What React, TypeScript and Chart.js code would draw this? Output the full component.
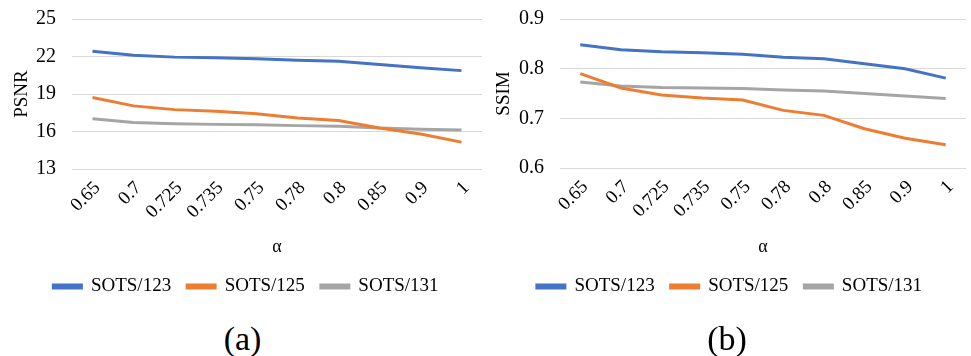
import React, { useEffect, useRef } from "react";
import { Chart, registerables } from "chart.js";

Chart.register(...registerables);

const alphaLabels = ["0.65", "0.7", "0.725", "0.735", "0.75", "0.78", "0.8", "0.85", "0.9", "1"];
const seriesNames = ["SOTS/123", "SOTS/125", "SOTS/131"];
const seriesColors = ["#4472C4", "#ED7D31", "#A5A5A5"];

const psnr123 = [22.42, 22.1, 21.95, 21.9, 21.82, 21.7, 21.62, 21.36, 21.1, 20.87];
const psnr125 = [18.72, 18.05, 17.75, 17.62, 17.42, 17.08, 16.88, 16.28, 15.8, 15.15];
const psnr131 = [17.02, 16.72, 16.62, 16.57, 16.54, 16.47, 16.42, 16.28, 16.18, 16.12];

const ssim123 = [0.848, 0.838, 0.834, 0.832, 0.829, 0.823, 0.82, 0.81, 0.8, 0.781];
const ssim125 = [0.79, 0.761, 0.747, 0.741, 0.737, 0.716, 0.706, 0.679, 0.66, 0.647];
const ssim131 = [0.773, 0.765, 0.762, 0.761, 0.76, 0.757, 0.755, 0.75, 0.745, 0.74];

const psnrAxis = { min: 13, max: 25, step: 3, title: "PSNR", decimals: 0 };
const ssimAxis = { min: 0.6, max: 0.9, step: 0.1, title: "SSIM", decimals: 1 };

const FONT = "'Liberation Serif', 'Times New Roman', serif";

type AxisCfg = { min: number; max: number; step: number; title: string; decimals: number };

const legendShift = {
  id: "legendShift",
  afterUpdate(chart: any) {
    const lg = chart.legend;
    if (!lg) return;
    lg.left += 5;
    lg.right += 5;
    if (lg.adjustHitBoxes) lg.adjustHitBoxes();
  },
};

function Panel(props: {
  left: number;
  width: number;
  height: number;
  data: number[][];
  axis: AxisCfg;
  yWidth: number;
  padTop: number;
  padRight: number;
  xHeight: number;
  titleOffset: number;
}) {
  const ref = useRef<HTMLCanvasElement | null>(null);
  useEffect(() => {
    if (!ref.current) return;
    const { axis } = props;
    const chart = new Chart(ref.current, {
      type: "line",
      data: {
        labels: alphaLabels,
        datasets: props.data.map((d, i) => ({
          label: seriesNames[i],
          data: d,
          borderColor: seriesColors[i],
          backgroundColor: seriesColors[i],
          borderWidth: 3,
          pointRadius: 0,
          tension: 0,
          fill: false,
        })),
      },
      plugins: [legendShift],
      options: {
        animation: false,
        responsive: false,
        layout: { padding: { top: props.padTop, right: props.padRight, left: 0, bottom: 0 } },
        plugins: {
          legend: {
            position: "bottom",
            labels: {
              boxWidth: 28,
              boxHeight: 3,
              padding: 16,
              color: "#000",
              font: { family: FONT, size: 19 },
            },
          },
          tooltip: { enabled: false },
        },
        scales: {
          x: {
            offset: true,
            grid: { display: false },
            border: { display: false },
            ticks: {
              color: "#000",
              font: { family: FONT, size: 19 },
              minRotation: 45,
              maxRotation: 45,
              padding: 0,
              labelOffset: 5,
            },
            title: {
              display: true,
              text: "α",
              color: "#000",
              font: { family: FONT, size: 18 },
              padding: { top: 0, bottom: 3 },
            },
            afterFit: (s: any) => {
              s.height = props.xHeight;
              s.paddingLeft = 0;
              s.paddingRight = 0;
            },
          },
          y: {
            min: axis.min,
            max: axis.max,
            grid: { color: "#d9d9d9", lineWidth: 1, drawTicks: false },
            border: { display: false },
            ticks: {
              stepSize: axis.step,
              color: "#000",
              font: { family: FONT, size: 20 },
              padding: 16,
              callback: (v: any) => Number(v).toFixed(axis.decimals),
            },
            title: {
              display: true,
              text: axis.title,
              color: "#000",
              font: { family: FONT, size: 19 },
              padding: { top: props.titleOffset, bottom: 0 },
            },
            afterFit: (s: any) => {
              s.width = props.yWidth;
              s.paddingTop = 0;
              s.paddingBottom = 0;
            },
          },
        },
      },
    });
    return () => chart.destroy();
  }, []);
  return (
    <canvas
      ref={ref}
      width={props.width}
      height={props.height}
      style={{ position: "absolute", left: props.left, top: 0, width: props.width, height: props.height }}
    />
  );
}

export default function App() {
  return (
    <div style={{ position: "absolute", left: 0, top: 0, width: 971, height: 356, background: "#fff" }}>
      <Panel
        left={0}
        width={485}
        height={306}
        data={[psnr123, psnr125, psnr131]}
        axis={psnrAxis}
        yWidth={72}
        padTop={19}
        padRight={3}
        xHeight={92}
        titleOffset={11}
      />
      <Panel
        left={483}
        width={488}
        height={306}
        data={[ssim123, ssim125, ssim131]}
        axis={ssimAxis}
        yWidth={77}
        padTop={19}
        padRight={5}
        xHeight={93}
        titleOffset={10}
      />
      <div
        style={{
          position: "absolute",
          left: 0,
          width: 485,
          top: 322,
          textAlign: "center",
          fontFamily: FONT,
          fontSize: 34,
          lineHeight: "34px",
          color: "#000",
        }}
      >
        (a)
      </div>
      <div
        style={{
          position: "absolute",
          left: 483,
          width: 488,
          top: 322,
          textAlign: "center",
          fontFamily: FONT,
          fontSize: 34,
          lineHeight: "34px",
          color: "#000",
        }}
      >
        (b)
      </div>
    </div>
  );
}
